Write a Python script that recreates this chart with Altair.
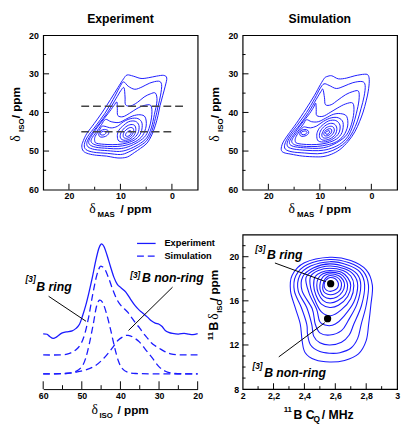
import altair as alt
import pandas as pd

FONT = "Liberation Sans"
SERIF = "Liberation Serif"
BLUE = "#1a1aff"
W = 158
H = 158

# ---------------- Experiment 2D contours (delta_MAS, delta_ISO) in ppm ----------------
EXP_C1 = [(8.7,30.3),(7.5,30.6),(6.0,31.2),(4.5,31.0),(3.0,30.6),(1.6,30.4),(1.0,31.1),(1.3,33.2),(1.8,35.7),(2.3,38.2),(2.7,40.8),(3.2,43.3),(3.9,45.8),(4.8,47.9),(6.1,49.3),(7.3,50.4),(8.6,51.5),(9.9,51.8),(11.1,51.7),(12.7,51.3),(14.6,51.1),(16.2,50.7),(17.2,50.0),(17.5,48.7),(17.2,47.3),(16.5,45.4),(15.1,42.9),(13.5,39.9),(11.9,36.6),(10.5,33.6),(9.4,31.3)]
EXP_C2 = [(9.4,32.1),(8.5,33.2),(7.2,34.0),(5.8,33.4),(4.3,32.4),(2.6,31.9),(2.0,32.8),(2.2,35.5),(2.7,38.5),(3.2,41.5),(3.9,44.8),(4.9,47.3),(6.6,49.0),(8.5,50.3),(10.0,50.9),(12.5,50.6),(15.2,50.3),(16.7,49.6),(17.0,48.3),(16.4,46.3),(14.8,43.5),(13.0,40.2),(11.4,36.6),(10.2,33.6)]
EXP_C3 = [(9.3,33.6),(9.1,36.0),(9.0,38.0),(8.0,38.3),(6.7,37.4),(5.4,36.0),(4.2,35.2),(3.2,35.0),(2.9,37.0),(3.4,40.5),(4.0,44.0),(4.9,46.6),(6.5,48.3),(8.5,49.6),(10.2,50.1),(12.5,49.9),(15.0,49.6),(16.3,48.9),(16.5,47.7),(15.8,45.9),(14.3,43.2),(12.5,40.0),(10.9,36.5),(9.9,34.3)]
EXP_C4 = [(10.7,37.3),(10.6,39.0),(10.5,40.8),(9.5,41.1),(8.2,40.2),(6.8,39.0),(5.4,38.2),(4.1,38.2),(3.9,40.5),(4.3,43.5),(5.1,46.0),(6.5,47.6),(8.5,48.9),(10.3,49.4),(12.5,49.3),(14.8,49.0),(16.0,48.3),(16.1,47.2),(15.4,45.6),(14.0,43.0),(12.4,40.3),(11.3,38.3)]
EXP_C5 = [(12.9,41.8),(11.8,42.4),(10.3,42.6),(9.0,41.8),(7.6,40.9),(6.2,40.6),(5.2,41.2),(5.0,43.5),(5.7,46.0),(7.0,47.5),(8.7,48.4),(10.5,48.8),(12.5,48.8),(14.6,48.5),(15.6,47.8),(15.6,46.8),(14.7,45.1),(13.7,43.2)]
EXP_C6 = [(13.6,43.6),(13.0,43.6),(11.8,44.0),(10.6,43.6),(9.4,42.4),(8.0,41.6),(6.6,41.6),(5.8,42.8),(6.0,45.2),(7.0,46.9),(8.7,47.9),(10.6,48.3),(12.6,48.3),(14.6,48.0),(15.0,47.3),(14.9,46.2),(14.1,44.6)]
EXP_R1 = [(9.6,43.6),(8.4,42.4),(7.1,42.3),(6.4,43.4),(6.6,45.4),(7.6,46.9),(9.0,47.6),(10.3,47.4),(10.6,46.0),(10.3,44.6)]
EXP_R2 = [(9.2,44.0),(8.2,43.2),(7.3,43.3),(7.0,44.4),(7.3,45.8),(8.2,46.9),(9.3,47.2),(10.0,46.6),(9.9,45.3)]
EXP_R3 = [(8.9,44.5),(8.1,43.9),(7.5,44.2),(7.5,45.2),(8.0,46.2),(8.8,46.7),(9.4,46.4),(9.4,45.4)]
EXP_R4 = [(8.6,45.0),(8.1,44.7),(7.9,45.1),(8.1,45.8),(8.6,46.2),(9.0,46.0),(8.9,45.4)]
EXP_L1 = [(13.8,44.7),(13.1,44.4),(12.4,44.7),(12.3,45.5),(12.9,46.2),(13.8,46.4),(14.2,45.9),(14.1,45.2)]
EXP_L2 = [(13.6,45.0),(13.0,44.9),(12.8,45.3),(13.2,45.8),(13.8,45.8),(13.9,45.4)]
EXP_CONTOURS = [EXP_C1, EXP_C2, EXP_C3, EXP_C4, EXP_C5, EXP_C6, EXP_R1, EXP_R2, EXP_R3, EXP_R4, EXP_L1, EXP_L2]

# dashed slice positions (delta_ISO) and their extents (delta_MAS)
DASH_ISO = [38.4, 45.0]
DASH_MAS_FROM = [17.6, 17.6]
DASH_MAS_TO = [-2.5, 0.0]

# ---------------- Simulation 2D contours ----------------
SIM_C1 = [(8.6,30.7),(7.7,30.5),(6.4,31.3),(4.8,31.1),(3.2,30.5),(1.3,30.1),(0.6,30.4),(0.4,31.9),(0.6,34.5),(1.0,37.0),(1.6,39.9),(2.3,42.4),(3.2,45.0),(4.5,47.5),(6.1,49.6),(7.7,50.8),(9.2,51.4),(10.8,51.5),(13.4,51.3),(15.6,50.8),(17.0,50.4),(17.5,49.6),(17.2,47.9),(16.2,45.8),(14.6,42.9),(12.7,39.1),(11.1,35.7),(9.9,32.8),(9.1,31.1)]
SIM_C2 = [(9.2,32.6),(8.2,33.0),(6.8,33.8),(5.3,33.2),(3.6,32.3),(1.8,32.0),(1.2,33.0),(1.4,35.8),(2.0,39.0),(2.7,42.2),(3.6,45.0),(4.8,47.4),(6.5,49.2),(8.5,50.3),(10.5,50.7),(13.0,50.5),(15.4,50.2),(16.7,49.5),(16.8,48.2),(16.0,46.1),(14.4,43.3),(12.6,40.0),(11.0,36.4),(10.0,33.9)]
SIM_C3 = [(9.4,34.0),(9.1,36.2),(8.9,38.0),(7.8,38.0),(6.5,36.8),(5.0,35.4),(3.6,34.6),(2.5,34.5),(2.4,36.8),(2.9,40.2),(3.6,43.5),(4.6,46.3),(6.2,48.3),(8.3,49.5),(10.3,49.9),(12.7,49.8),(15.0,49.5),(16.2,48.9),(16.3,47.7),(15.5,45.8),(13.9,43.2),(12.2,40.0),(10.7,36.6),(9.8,34.6)]
SIM_C4 = [(10.8,37.6),(10.7,39.3),(10.6,40.8),(9.4,41.0),(8.0,40.0),(6.5,38.8),(5.0,37.8),(3.6,37.6),(3.4,40.0),(3.9,43.2),(4.8,45.8),(6.3,47.5),(8.3,48.8),(10.3,49.3),(12.6,49.2),(14.8,48.9),(15.8,48.3),(15.8,47.2),(15.0,45.6),(13.6,43.0),(12.0,40.3),(11.2,38.6)]
SIM_C5 = [(12.6,41.9),(11.6,42.4),(10.3,42.4),(8.9,41.5),(7.4,40.5),(6.0,40.3),(4.8,41.0),(4.6,43.5),(5.4,46.0),(6.8,47.6),(8.6,48.4),(10.5,48.8),(12.6,48.8),(14.6,48.5),(15.4,47.8),(15.3,46.8),(14.4,45.1),(13.3,43.2)]
SIM_C6 = [(13.2,43.8),(12.7,43.8),(11.8,44.0),(10.6,43.5),(9.3,42.3),(7.8,41.4),(6.4,41.4),(5.5,42.6),(5.7,45.2),(6.8,46.9),(8.6,47.9),(10.6,48.3),(12.6,48.3),(14.4,48.0),(14.8,47.3),(14.6,46.2),(13.8,44.6)]
SIM_R1 = [(9.6,43.4),(8.3,42.2),(6.9,42.1),(6.1,43.3),(6.3,45.3),(7.4,46.8),(8.9,47.6),(10.3,47.4),(10.6,45.9),(10.3,44.5)]
SIM_R2 = [(9.3,43.8),(8.2,42.9),(7.2,43.0),(6.7,44.1),(7.0,45.7),(8.0,46.8),(9.2,47.2),(10.0,46.6),(10.0,45.2)]
SIM_R3 = [(9.0,44.2),(8.1,43.6),(7.4,43.8),(7.2,44.8),(7.7,45.9),(8.6,46.6),(9.4,46.5),(9.6,45.6)]
SIM_R4 = [(8.8,44.6),(8.1,44.2),(7.7,44.5),(7.8,45.3),(8.4,46.0),(9.1,46.0),(9.2,45.3)]
SIM_R5 = [(8.6,44.9),(8.2,44.7),(8.1,45.1),(8.4,45.6),(8.8,45.6),(8.9,45.2)]
SIM_L1 = [(13.5,44.6),(12.9,44.4),(12.3,44.7),(12.2,45.4),(12.7,46.0),(13.5,46.2),(13.9,45.8),(13.8,45.1)]
SIM_L2 = [(13.3,44.9),(12.8,44.8),(12.5,45.2),(12.9,45.7),(13.5,45.7),(13.6,45.2)]
SIM_CONTOURS = [SIM_C1, SIM_C2, SIM_C3, SIM_C4, SIM_C5, SIM_C6, SIM_R1, SIM_R2, SIM_R3, SIM_R4, SIM_R5, SIM_L1, SIM_L2]

# ---------------- 1D delta_ISO projections (ppm, intensity with offsets) ----------------
EXP_PPM = [60,59,58.3,57.4,56.5,55.2,54,52.5,51.5,50.6,49.8,49.0,48.2,47.3,46.4,45.6,45.0,44.3,43.5,42.6,41.7,40.8,39.8,38.6,37.4,36.2,35.0,34.0,33.0,32.0,31.0,30.0,29.2,28.4,27.5,26.5,25.0,23.5,22.3,21.2,20.0]
EXP_INT = [35.8,35.5,34.0,32.8,33.8,36.2,37.0,37.7,39.3,42.0,47.5,54,62,72,83,91,93.9,92.5,87,79.5,72.5,67.8,65.5,62.8,58.3,54.0,50.8,48.8,46.6,44.2,42.7,42.0,40.5,38.0,36.7,36.0,35.6,36.1,35.6,35.3,35.9]
SUM_PPM = [60,55,53,51.5,50.2,49.2,48.2,47.2,46.2,45.4,44.9,44.0,43.0,42.0,41.0,40.0,39.0,38.0,37.0,36.0,35.0,34.0,33.0,32.0,31.0,30.0,28.5,27,25,20]
SUM_INT = [22.1,22.2,23.3,25.5,29.5,36,47,61,73,78.8,79.5,77.5,71.5,64.5,58.5,54.5,52,49.5,46,42.5,39.5,36,33,30,28,26.5,24.3,22.8,22.2,22.1]
RING_PPM = [60,54,51.5,50,49,48,47,46.2,45.4,44.5,43.5,42.5,41.5,40.5,39.5,38.2,36,30,20]
RING_INT = [9.9,10.1,11.5,14.5,20,30,42.5,53.5,57.6,55.5,48,38,27,18,13.2,11,10.1,9.9,9.9]
NONRING_PPM = [60,54.4,50.2,46.8,44.3,42.2,40.6,38.9,38.0,36.8,35.1,33.4,31.7,30.1,28.4,25.9,20]
NONRING_INT = [9.9,10.1,11.6,14.7,20.0,26.3,31.6,34.4,34.8,33.7,30.6,25.3,20.0,14.7,11.6,10.1,9.9]
# leader lines of the labels (ppm, intensity)
BL_LEAD_PPM = [58.6, 26.5]
BL_LEAD_INT = [60.1, 66.0]
BL_LEAD_PPM2 = [48.9, 37.9]
BL_LEAD_INT2 = [43.9, 38.0]

# ---------------- Cq / delta_iso distribution contours ----------------
Q1 = [(2.565,19.95),(2.70,19.65),(2.80,18.8),(2.84,17.4),(2.83,15.6),(2.816,13.9),(2.80,12.4),(2.75,11.2),(2.66,10.6),(2.565,10.45),(2.47,10.65),(2.405,11.3),(2.385,12.4),(2.373,13.9),(2.34,15.4),(2.31,16.9),(2.32,18.3),(2.40,19.45)]
Q2 = [(2.565,19.75),(2.69,19.45),(2.78,18.7),(2.815,17.4),(2.80,15.6),(2.768,13.9),(2.745,12.6),(2.70,11.7),(2.63,11.3),(2.565,11.25),(2.50,11.4),(2.44,12.0),(2.42,13.0),(2.415,13.9),(2.38,15.4),(2.335,16.9),(2.345,18.3),(2.42,19.3)]
Q3 = [(2.565,19.55),(2.68,19.25),(2.76,18.6),(2.79,17.4),(2.77,15.6),(2.72,13.9),(2.69,12.9),(2.64,12.25),(2.565,12.0),(2.50,12.2),(2.46,12.8),(2.447,13.9),(2.415,15.4),(2.36,16.9),(2.37,18.3),(2.44,19.15)]
Q4 = [(2.565,19.35),(2.67,19.05),(2.74,18.45),(2.765,17.4),(2.74,15.7),(2.683,14.2),(2.64,13.3),(2.565,12.9),(2.50,13.1),(2.47,13.9),(2.45,15.3),(2.385,16.9),(2.39,18.2),(2.46,19.0)]
Q5 = [(2.565,19.15),(2.66,18.9),(2.72,18.35),(2.745,17.4),(2.72,15.9),(2.655,14.6),(2.60,13.9),(2.55,13.76),(2.50,14.1),(2.48,15.2),(2.43,16.7),(2.41,18.1),(2.47,18.85)]
Q6 = [(2.565,18.95),(2.65,18.75),(2.70,18.25),(2.72,17.4),(2.70,16.2),(2.64,15.2),(2.57,14.65),(2.51,15.0),(2.47,16.0),(2.44,17.2),(2.44,18.2),(2.49,18.75)]
Q7 = [(2.565,18.75),(2.64,18.6),(2.68,18.1),(2.70,17.4),(2.68,16.4),(2.62,15.6),(2.565,15.4),(2.51,15.7),(2.475,16.5),(2.46,17.4),(2.47,18.2),(2.51,18.6)]
Q8 = [(2.565,18.6),(2.63,18.45),(2.665,18.0),(2.68,17.4),(2.665,16.6),(2.615,16.0),(2.565,15.8),(2.52,16.05),(2.49,16.7),(2.48,17.4),(2.49,18.05),(2.52,18.45)]
Q9 = [(2.565,18.45),(2.62,18.3),(2.65,17.9),(2.66,17.4),(2.645,16.8),(2.61,16.35),(2.565,16.2),(2.525,16.4),(2.505,16.85),(2.50,17.4),(2.51,17.95),(2.53,18.3)]
Q10 = [(2.567,18.3),(2.61,18.15),(2.635,17.8),(2.64,17.4),(2.63,16.95),(2.60,16.65),(2.567,16.55),(2.535,16.7),(2.52,17.0),(2.52,17.45),(2.53,17.9),(2.545,18.15)]
Q11 = [(2.568,18.12),(2.60,18.0),(2.617,17.7),(2.62,17.4),(2.61,17.1),(2.59,16.93),(2.568,16.86),(2.545,16.95),(2.53,17.2),(2.528,17.5),(2.535,17.8),(2.55,18.0)]
CQ_CONTOURS = [Q1, Q2, Q3, Q4, Q5, Q6, Q7, Q8, Q9, Q10, Q11]
SITE_CQ = [2.57, 2.55]
SITE_ISO = [17.55, 14.38]
BR_LEAD_CQ = [2.209, 2.532]
BR_LEAD_ISO = [19.43, 14.02]
BR_LEAD_CQ2 = [2.538, 2.234]
BR_LEAD_ISO2 = [17.74, 10.92]

# ---------------- tick values ----------------
TOP_X_LABELS = [20, 10, 0]
TOP_X_MINOR = [15, 5]
TOP_Y_LABELS = [20, 30, 40, 50, 60]
TOP_Y_MAJOR = [30, 40, 50]
TOP_Y_MINOR = [25, 35, 45, 55]
BL_X_LABELS = [60, 50, 40, 30, 20]
BL_X_MINOR = [55, 45, 35, 25]
BR_X_LABELS = [2, 2.2, 2.4, 2.6, 2.8, 3]
BR_X_MAJOR = [2.2, 2.4, 2.6, 2.8]
BR_X_MINOR = [2.1, 2.3, 2.5, 2.7, 2.9]
BR_Y_LABELS = [8, 12, 16, 20]
BR_Y_MAJOR = [12, 16, 20]
BR_Y_MINOR = [9, 10, 11, 13, 14, 15, 17, 18, 19, 21]

ONE = pd.DataFrame({"a": [0]})


def contour_frame(contours):
    rows = []
    for cid, pts in enumerate(contours):
        for i, (x, y) in enumerate(pts):
            rows.append({"c": cid, "i": i, "x": x, "y": y})
    return pd.DataFrame(rows)


def txt(s, x, y, size, weight="bold", style="normal", font=FONT, angle=0, align="left", baseline="alphabetic"):
    return alt.Chart(ONE).mark_text(
        text=s, fontSize=size, fontWeight=weight, fontStyle=style, font=font,
        angle=angle, align=align, baseline=baseline, color="black"
    ).encode(x=alt.value(x), y=alt.value(y))


def xticks(vals, length, xs, xa):
    return alt.Chart(pd.DataFrame({"x": vals})).mark_rule(color="black", strokeWidth=1).encode(
        x=alt.X("x:Q", scale=xs, axis=xa), y=alt.value(H), y2=alt.value(H - length))


def yticks(vals, length, ys, ya):
    return alt.Chart(pd.DataFrame({"y": vals})).mark_rule(color="black", strokeWidth=1).encode(
        y=alt.Y("y:Q", scale=ys, axis=ya), x=alt.value(0), x2=alt.value(length))


def top_panel(contours, title, dashed):
    xs = alt.Scale(domain=[25, -5], nice=False, zero=False)
    ys = alt.Scale(domain=[60, 20], nice=False, zero=False)
    xa = alt.Axis(values=TOP_X_LABELS, title=None, labelPadding=2, labelFlush=False)
    ya = alt.Axis(values=TOP_Y_LABELS, title=None, labelPadding=5)
    lines = alt.Chart(contour_frame(contours)).mark_line(
        interpolate="cardinal-closed", color=BLUE, strokeWidth=1
    ).encode(
        x=alt.X("x:Q", scale=xs, axis=xa),
        y=alt.Y("y:Q", scale=ys, axis=ya),
        detail="c:N", order="i:Q")
    layers = [lines]
    if dashed:
        ddf = pd.DataFrame({"y": DASH_ISO, "x": DASH_MAS_FROM, "x2": DASH_MAS_TO})
        layers.append(alt.Chart(ddf).mark_rule(color="#444444", strokeWidth=1.6, strokeDash=[8, 4]).encode(
            x=alt.X("x:Q", scale=xs, axis=xa), x2="x2:Q", y=alt.Y("y:Q", scale=ys, axis=ya)))
    layers += [
        xticks(TOP_X_LABELS, 6, xs, xa), xticks(TOP_X_MINOR, 3, xs, xa),
        yticks(TOP_Y_MAJOR, 6, ys, ya), yticks(TOP_Y_MINOR, 3, ys, ya),
        txt(title, 79, -12, 12.5, align="center"),
        txt("δ", 47, 182, 14, weight="normal", font=SERIF),
        txt("MAS", 55.5, 186, 8),
        txt("/ ppm", 79, 182, 12),
        txt("δ", -24, 109, 14, weight="normal", font=SERIF, angle=270),
        txt("ISO", -20, 99, 8, angle=270),
        txt("/ ppm", -24, 85, 12, angle=270),
    ]
    return alt.layer(*layers).properties(width=W, height=H)


def spectra_panel():
    xs = alt.Scale(domain=[60, 20], nice=False, zero=False)
    ys = alt.Scale(domain=[0, 100], nice=False, zero=False)
    xa = alt.Axis(values=BL_X_LABELS, title=None, domain=True, domainColor="black",
                  domainWidth=1, labelPadding=3, labelFlush=False)
    exp = pd.DataFrame({"x": EXP_PPM, "y": EXP_INT, "s": "exp"})
    dashed = pd.concat([
        pd.DataFrame({"x": SUM_PPM, "y": SUM_INT, "s": "sum"}),
        pd.DataFrame({"x": RING_PPM, "y": RING_INT, "s": "ring"}),
        pd.DataFrame({"x": NONRING_PPM, "y": NONRING_INT, "s": "nonring"}),
    ])
    solid = alt.Chart(exp).mark_line(interpolate="cardinal", color=BLUE, strokeWidth=1.3).encode(
        x=alt.X("x:Q", scale=xs, axis=xa), y=alt.Y("y:Q", scale=ys, axis=None))
    dash = alt.Chart(dashed).mark_line(interpolate="cardinal", color=BLUE, strokeWidth=1.3, strokeDash=[7, 4]).encode(
        x=alt.X("x:Q", scale=xs, axis=xa), y=alt.Y("y:Q", scale=ys, axis=None), detail="s:N")
    lead = alt.Chart(pd.DataFrame({"x": BL_LEAD_PPM, "y": BL_LEAD_INT, "x2": BL_LEAD_PPM2, "y2": BL_LEAD_INT2})).mark_rule(
        color="black", strokeWidth=1).encode(
        x=alt.X("x:Q", scale=xs, axis=xa), y=alt.Y("y:Q", scale=ys, axis=None), x2="x2:Q", y2="y2:Q")
    legend_solid = alt.Chart(ONE).mark_rule(color=BLUE, strokeWidth=1.3).encode(
        x=alt.value(96), x2=alt.value(115), y=alt.value(9))
    legend_dash = alt.Chart(ONE).mark_rule(color=BLUE, strokeWidth=1.3, strokeDash=[7, 4]).encode(
        x=alt.value(96), x2=alt.value(115), y=alt.value(22))
    layers = [
        solid, dash, lead,
        alt.Chart(pd.DataFrame({"x": BL_X_LABELS})).mark_rule(color="black").encode(
            x=alt.X("x:Q", scale=xs, axis=xa), y=alt.value(H), y2=alt.value(H - 8)),
        alt.Chart(pd.DataFrame({"x": BL_X_MINOR})).mark_rule(color="black").encode(
            x=alt.X("x:Q", scale=xs, axis=xa), y=alt.value(H), y2=alt.value(H - 4)),
        legend_solid, legend_dash,
        txt("Experiment", 124, 9, 9.5, baseline="middle"),
        txt("Simulation", 124, 22, 9.5, baseline="middle"),
        txt("[3]", -18, 48, 8.5, style="italic"),
        txt("B ring", -7, 58, 12.5, style="italic"),
        txt("[3]", 89, 44, 8.5, style="italic"),
        txt("B non-ring", 101, 48, 12.5, style="italic"),
        txt("δ", 49.5, 183, 14, weight="normal", font=SERIF),
        txt("ISO", 57.5, 187.5, 8),
        txt("/ ppm", 76, 183, 12),
    ]
    return alt.layer(*layers).properties(width=W, height=H, view=alt.ViewBackground(stroke="transparent"))


def cq_panel():
    xs = alt.Scale(domain=[2, 3], nice=False, zero=False)
    ys = alt.Scale(domain=[8, 22], nice=False, zero=False)
    xa = alt.Axis(values=BR_X_LABELS, title=None, labelPadding=3, labelFlush=False,
                  labelExpr="replace(format(datum.value, '~g'), '.', ',')")
    ya = alt.Axis(values=BR_Y_LABELS, title=None, labelPadding=4)
    lines = alt.Chart(contour_frame(CQ_CONTOURS)).mark_line(
        interpolate="cardinal-closed", color=BLUE, strokeWidth=1.1
    ).encode(
        x=alt.X("x:Q", scale=xs, axis=xa),
        y=alt.Y("y:Q", scale=ys, axis=ya),
        detail="c:N", order="i:Q")
    lead = alt.Chart(pd.DataFrame({"x": BR_LEAD_CQ, "y": BR_LEAD_ISO, "x2": BR_LEAD_CQ2, "y2": BR_LEAD_ISO2})).mark_rule(
        color="black", strokeWidth=1).encode(
        x=alt.X("x:Q", scale=xs, axis=xa), y=alt.Y("y:Q", scale=ys, axis=ya), x2="x2:Q", y2="y2:Q")
    dots = alt.Chart(pd.DataFrame({"x": SITE_CQ, "y": SITE_ISO})).mark_circle(color="black", size=55, opacity=1).encode(
        x=alt.X("x:Q", scale=xs, axis=xa), y=alt.Y("y:Q", scale=ys, axis=ya))
    layers = [
        lines, lead, dots,
        xticks(BR_X_MAJOR, 6, xs, xa), xticks(BR_X_MINOR, 3, xs, xa),
        yticks(BR_Y_MAJOR, 6, ys, ya), yticks(BR_Y_MINOR, 3, ys, ya),
        txt("[3]", 13, 18, 8.5, style="italic"),
        txt("B ring", 25, 25, 12.5, style="italic"),
        txt("[3]", 10, 137, 8.5, style="italic"),
        txt("B non-ring", 22, 146, 12.5, style="italic"),
        txt("11", 42, 181, 8),
        txt("B C", 52, 189, 12.5),
        txt("Q", 72.5, 192, 8.5),
        txt("/ MHz", 81, 189, 12.5),
        txt("11", -30, 108, 8, angle=270),
        txt("B", -25, 98, 12.5, angle=270),
        txt("δ", -25, 87, 14, weight="normal", font=SERIF, angle=270),
        txt("ISO", -21, 80, 8, angle=270),
        txt("/ ppm", -25, 68, 12, angle=270),
    ]
    return alt.layer(*layers).properties(width=W, height=H)


chart = alt.concat(
    top_panel(EXP_CONTOURS, "Experiment", True),
    top_panel(SIM_CONTOURS, "Simulation", False),
    spectra_panel(),
    cq_panel(),
    columns=2, spacing=46, bounds="flush",
).properties(padding=0).configure_view(stroke="black", strokeWidth=1.2).configure_axis(
    labelFont=FONT, labelFontSize=9, labelFontWeight="bold", labelColor="black",
    ticks=False, domain=False, grid=False
)

chart.save("out.html", embed_options={"renderer": "svg", "actions": False})
